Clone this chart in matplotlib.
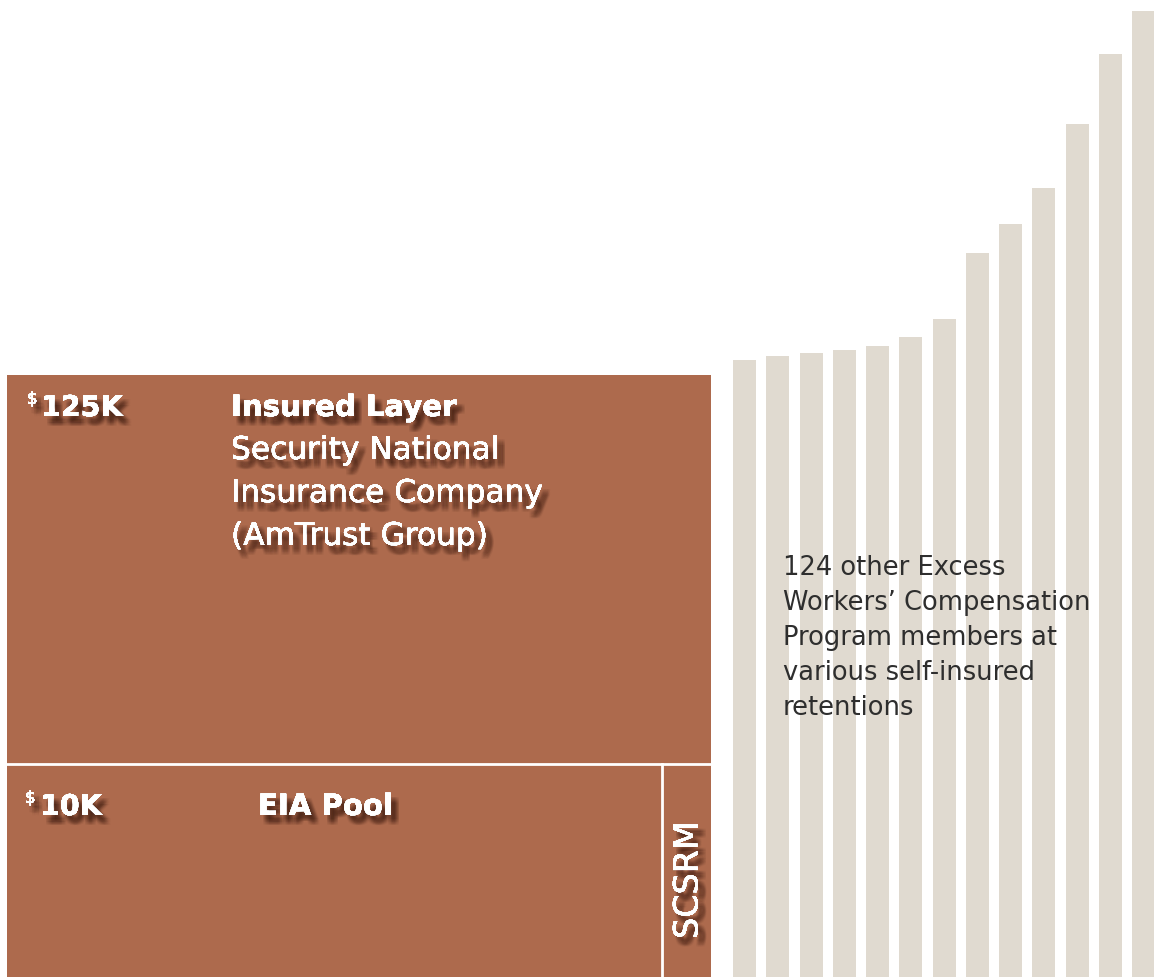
import matplotlib.pyplot as plt
import matplotlib.patheffects as pe

# layers of the program (heights in chart units, bottom = 0)
layer_names = ["EIA Pool", "Insured Layer"]
layer_bottoms = [0, 213]
layer_tops = [213, 602]
layer_retentions = ["10K", "125K"]
insurer_lines = ["Security National", "Insurance Company", "(AmTrust Group)"]
scsrm_label = "SCSRM"
scsrm_top = 213

# other members' self-insured retentions (bar heights)
member_heights = [617, 621, 624, 627, 631, 640, 658, 724, 753, 789, 853, 923, 966]
member_lines = ["124 other Excess", "Workers\u2019 Compensation", "Program members at",
                "various self-insured", "retentions"]

BROWN = "#ad6a4d"
SAND = "#e0dad0"
FONT = "DejaVu Sans"


def shadow():
    effects = []
    for dx in (2, 3, 4, 5, 6):
        for dy in (-3, -4, -5, -6, -7):
            effects.append(pe.withSimplePatchShadow(offset=(dx, dy), shadow_rgbFace="#2a0f08", alpha=0.045))
    effects.append(pe.Normal())
    return effects


figure = plt.figure(figsize=(11.54, 9.77), dpi=100)
axes = figure.add_axes([0, 0, 1, 1])
axes.set_xlim(0, 1154)
axes.set_ylim(0, 977)
axes.axis("off")

# member bars
x = [744.5 + i * 33.25 for i in range(len(member_heights))]
axes.bar(x, member_heights, width=23, color=SAND, align="center")

# brown layers
for b, t in zip(layer_bottoms, layer_tops):
    axes.bar(359, t - b, bottom=b, width=704, color=BROWN, edgecolor="none")
axes.plot([7, 710], [layer_tops[0], layer_tops[0]], color="white", lw=2)
axes.plot([662, 662], [0, scsrm_top], color="white", lw=2)

# labels
axes.text(41, 561, layer_retentions[1], color="white", fontsize=20.5, fontweight="bold",
          family=FONT, va="baseline", path_effects=shadow())
axes.text(27, 573, "$", color="white", fontsize=12, family=FONT, va="baseline", path_effects=shadow())
axes.text(231, 561, layer_names[1], color="white", fontsize=21, fontweight="bold",
          family=FONT, va="baseline", path_effects=shadow())
for i, line in enumerate(insurer_lines):
    axes.text(231, 518 - i * 43, line, color="white", fontsize=22.5,
              family=FONT, va="baseline", path_effects=shadow())

axes.text(40, 162, layer_retentions[0], color="white", fontsize=20.5, fontweight="bold",
          family=FONT, va="baseline", path_effects=shadow())
axes.text(25, 174, "$", color="white", fontsize=12, family=FONT, va="baseline", path_effects=shadow())
axes.text(258, 162, layer_names[0], color="white", fontsize=21, fontweight="bold",
          family=FONT, va="baseline", path_effects=shadow())

axes.text(688, 97, scsrm_label, color="white", fontsize=24, family=FONT, rotation=90,
          ha="center", va="center", path_effects=shadow())

for i, line in enumerate(member_lines):
    axes.text(783, 402 - i * 35, line, color="#2e2e2e", fontsize=18.5, family=FONT,
              va="baseline")

figure.savefig("out.png", dpi=100)
